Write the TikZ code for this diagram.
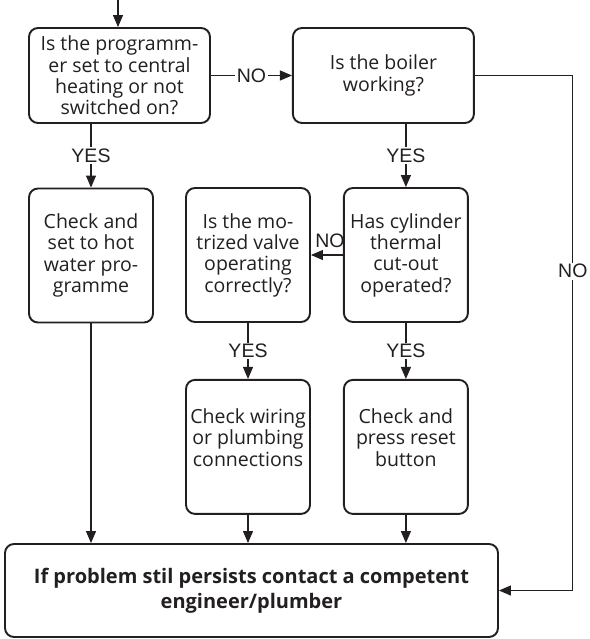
\documentclass[tikz,border=0pt]{standalone}
\usepackage{fontspec}
\setmainfont{Open Sans}
\newfontfamily\labelfont{Liberation Sans}
\usetikzlibrary{arrows.meta,positioning}

\definecolor{ink}{HTML}{231F20}

\tikzset{
  box/.style={draw=ink, text=ink, line width=1.9pt, rounded corners=9pt, align=center, inner sep=0pt,
    font=\fontsize{19.5}{21.3}\selectfont},
  qbox/.style={box, minimum width=181pt, minimum height=95pt},
  sbox/.style={box, minimum width=124pt, minimum height=134pt},
  endbox/.style={box, minimum width=493pt, minimum height=93pt, font=\fontsize{20}{25}\selectfont\bfseries},
  answer/.style={font=\labelfont\fontsize{19.5}{21}\selectfont, text=ink, fill=white, inner sep=1.5pt},
  flow/.style={draw=ink, line width=1.2pt, -{Triangle[length=12pt,width=10pt]}}
}

\begin{document}
\begin{tikzpicture}[x=1pt, y=-1pt]
    \def\dx{81pt}
    \def\dy{56pt}
    \useasboundingbox (0,0) rectangle (589,639);

    % questions on top
    \node[qbox] (prog) at (119.5,75.5) {Is the programm-\\er set to central\\heating or not\\switched on?};
    \node[qbox, right=\dx of prog] (boiler) {Is the boiler\\working?};

    % second row
    \node[sbox] (hotwater) at (91,255.5) {Check and\\set to hot\\water pro-\\gramme};
    \node[sbox] (valve) at (248,255) {Is the mo-\\trized valve\\operating\\correctly?};
    \node[sbox, right=32pt of valve] (cylinder) {Has cylinder\\thermal\\cut-out\\operated?};

    % third row
    \node[sbox, below=\dy of valve, text depth=19pt] (wiring) {Check wiring\\or plumbing\\connections};
    \node[sbox, below=\dy of cylinder, text depth=19pt] (reset) {Check and\\press reset\\button};

    \node[endbox] (final) at (251.5,590.5) {If problem stil persists contact a competent\\engineer/plumber};

    \coordinate (start) at (118,0);
    \draw[flow] (start) -- (prog.north -| start);

    \draw[flow] (prog) -- node[answer] {NO} (boiler);
    \draw[flow] (prog.south -| hotwater) -- node[answer] {YES} (hotwater);
    \draw[flow] (boiler.south -| cylinder) -- node[answer] {YES} (cylinder);
    \draw[flow] (boiler.east) -- ++(98,0) |- node[answer, pos=.19] {NO} (final.east);

    \draw[flow] (cylinder) -- node[answer, above, fill=none, inner sep=1pt, xshift=3pt, yshift=6pt] {NO} (valve);
    \draw[flow] (valve) -- node[answer] {YES} (wiring);
    \draw[flow] (cylinder) -- node[answer] {YES} (reset);

    \draw[flow] (hotwater) -- (hotwater |- final.north);
    \draw[flow] (wiring) -- (wiring |- final.north);
    \draw[flow] (reset) -- (reset |- final.north);
\end{tikzpicture}
\end{document}
